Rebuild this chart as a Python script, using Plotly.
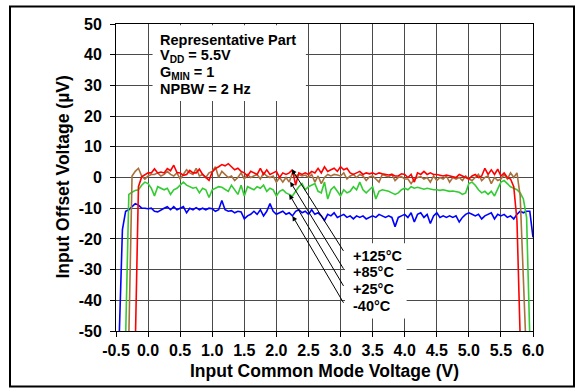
import plotly.graph_objects as go

# ---------------- data ----------------
# common-mode voltage sample grid (V), -0.45 .. 6.00 in 0.05 V steps
vcm = [round(-0.45 + 0.05 * i, 2) for i in range(130)]

vos_m40 = [  # -40°C (blue)
    -52, -17, -11, -10.5, -9.5, -8.5, -9, -10, -10, -10.2,
    -10, -11, -11.2, -10.5, -10, -9.5, -10.5, -9.5, -10.5, -10,
    -9.5, -11.5, -10, -10.5, -9.8, -10.5, -10, -10.5, -10, -10.2,
    -11, -10.5, -7.5, -10.5, -11, -10.8, -11.5, -11, -11.2, -13.5,
    -12.5, -12, -11, -12, -10.5, -12.5, -11, -8.5, -11, -12,
    -11.5, -11, -12, -11.5, -12.5, -11, -10.5, -11.5, -11, -12,
    -10.5, -12, -11.5, -12.5, -14, -12, -12.5, -11.5, -13, -12.5,
    -12, -13, -12.5, -13.5, -12.5, -13, -12.5, -13.5, -13, -12.5,
    -13, -12, -12.5, -13, -12.5, -13, -16, -13, -12.5, -12,
    -13, -11.5, -14.5, -12, -11.5, -13, -12, -15, -12.5, -11.5,
    -13, -12.5, -13, -12.5, -13, -12.5, -14.5, -13, -12, -11.5,
    -12, -12.5, -12, -13.5, -12.5, -12, -11.5, -13.5, -12, -12.5,
    -12, -13, -12.5, -13.5, -12, -11, -11.5, -11, -11, -19.5,
]
vos_25 = [  # +25°C (green)
    None, None, -52, -5.5, -4.8, -4.2, -4, -2.5, -1.5, -2,
    -3.5, -6, -3, -3.5, -4, -3.5, -5.5, -4, -3.5, -2.5,
    -1.5, -2.5, -3, -3.5, -3.2, -5, -3.5, -4, -6.5, -4,
    -3.5, -3, -3.2, -4, -4.5, -2.5, -4, -5.5, -2.5, -6,
    -3, -3.5, -4, -3, -3.5, -2.5, -4.5, -3.5, -4, -6,
    -4.5, -4, -5, -5.5, -6, -4.5, -3, -2, -4, -3,
    -2.5, -2, -4.5, -5, -1.5, -7, -4, -3, -4.5, -6,
    -4, -5, -4.5, -3, -4, -1.5, -4, -5, -4, -3,
    -7, -4.5, -4, -4.2, -4.5, -5, -5.5, -5, -4, -3.5,
    -4, -3, -3.5, -3.2, -3.5, -3.8, -3.5, -3.8, -4, -4,
    -4.2, -4, -4.2, -4.5, -4.4, -4.6, -4.8, -5.5, -5, -2,
    -1.5, -2.5, -4, -5, -4.5, -5.5, -4.5, -6, -3.5, -1.5,
    -1, -2, -3, -3.5, -4, -5, -7, -13, -52, None,
]
vos_85 = [  # +85°C (brown)
    None, None, None, -52, 0.5, 2, 3, 0.5, -0.5, 0.5,
    1, 1, 1.5, 0.5, 1, 2, 1, 0.5, 1.5, -0.5,
    1, 2.5, 1.5, 1, 3, 0.5, 1, 0, 1.5, 2,
    3.5, 0, 2, 1, 0, 0.5, -1, 0, 1.5, -0.5,
    1, 0, 0.5, 1, -0.5, 1.5, 0.5, 0, 0.5, -1.5,
    0, -1.5, 0, -1.5, 1.5, 0.5, 1, 0.5, 0.8, 0,
    1, -1.5, 0.5, -2, 0, 1, 0.5, 1, 0.8, 0.5,
    1.5, -0.5, 0.5, 1, 0, 1, 0.5, -1, 0.2, 0.5,
    -0.5, -1.5, 1, 0.5, 0.2, 1, -1, 0, 0.3, -0.5,
    -0.5, -2, -0.5, 0, 0.3, -0.5, 0, -1.5, 0.5, -1,
    0, -0.5, 0.5, -1.5, 0, -0.5, 0, -1, 0.5, -0.5,
    -1, 0, 1, -1, 0, 0.5, -2, 0, -1, -0.5,
    1, -0.5, 1.5, 0, 1.5, -6, -36, -60, None, None,
]
vos_125 = [  # +125°C (red)
    None, None, None, None, None, -55, -3, 0.2, 1, 1.5,
    1.5, 2.8, 1.5, 1.8, 1.5, 2.9, 2.2, 4, 1.6, 1.5,
    0.7, 1, 2.3, 1.5, 1.5, 2.7, 1, 0.2, -0.9, 1.8,
    2.9, 3.5, 4.2, 3.8, 4.5, 3.5, 2.5, 3, 2, 1.5,
    0.5, 2, 1.5, 1, 3, 1, 2.5, 1, 1.5, 2,
    0, 1.5, 1, 1.5, 2.5, -2.5, 1.5, 1, 1.5, 1,
    2, 1.5, 3, 1.5, 3.5, 2, 2.5, 3, 2, 3.5,
    2.5, 3, 1.5, 1, 1.5, 2, 1, 1.5, 1.2, 1.5,
    1, 1.5, 1.2, 1, 0.8, 1, 0.5, 0.5, 1.2, 1,
    0, 1, -1.5, 1.5, 1, 2, 1, 1.5, 1, 1,
    0.8, 0.5, 0.8, 0.5, 0.2, 0, 1, 0.5, 0.2, -0.5,
    0.5, 1, 0, 0.5, 3, 1, 2.5, 1, 2.7, 0.5,
    1.5, 0, -0.5, -3, -14, -52, None, None, None, None,
]

series_names = ["-40°C", "+25°C", "+85°C", "+125°C"]
series_colors = ["#0000FF", "#33CC33", "#A8703C", "#FF0000"]
series_values = [vos_m40, vos_25, vos_85, vos_125]

x_tickvals = [-0.5, 0.0, 0.5, 1.0, 1.5, 2.0, 2.5, 3.0, 3.5, 4.0, 4.5, 5.0, 5.5, 6.0]
x_ticktext = ["-0.5", "0.0", "0.5", "1.0", "1.5", "2.0", "2.5", "3.0", "3.5", "4.0", "4.5", "5.0", "5.5", "6.0"]
y_tickvals = [-50, -40, -30, -20, -10, 0, 10, 20, 30, 40, 50]
y_ticktext = ["-50", "-40", "-30", "-20", "-10", "0", "10", "20", "30", "40", "50"]

info_lines = ["Representative Part", "V<sub>DD</sub> = 5.5V", "G<sub>MIN</sub> = 1", "NPBW = 2 Hz"]
label_texts = ["+125°C", "+85°C", "+25°C", "-40°C"]
# arrow targets on curves (x, y) and label y positions
arrow_heads = [(2.24, 2.7), (2.215, -1.4), (2.2, -5.5), (2.25, -12.5)]
label_y = [-25.5, -30.9, -36.2, -41.8]

# ---------------- figure ----------------
W, H = 578, 388
ML, MR, MT, MB = 116, 45, 24, 57
PW, PH = W - ML - MR, H - MT - MB

def pxx(px):
    return (px - ML) / PW

def pxy(py):
    return (H - MB - py) / PH

FONT = "Liberation Sans, Arial, sans-serif"

fig = go.Figure()
for name, col, vals in zip(series_names, series_colors, series_values):
    fig.add_trace(go.Scatter(x=vcm, y=vals, mode="lines", name=name,
                             line=dict(color=col, width=1.6), connectgaps=False))

axis_common = dict(
    showgrid=True, gridcolor="#4a4a4a", gridwidth=1, zeroline=False,
    showline=True, linecolor="black", linewidth=1, mirror=True,
    ticks="outside", ticklen=5, tickcolor="black",
    tickfont=dict(family=FONT, size=16, color="black", weight="bold"),
)
fig.update_xaxes(range=[-0.5, 6.0], tickvals=x_tickvals, ticktext=x_ticktext,
                 ticklabelstandoff=0, **axis_common)
fig.update_yaxes(range=[-50, 50], tickvals=y_tickvals, ticktext=y_ticktext,
                 ticklabelstandoff=5, **axis_common)

shapes = [
    # info box background
    dict(type="rect", xref="x", yref="y", x0=0.07, x1=2.46, y0=24.9, y1=49.6,
         fillcolor="white", line=dict(width=0), layer="above"),
    # temperature label box background
    dict(type="rect", xref="x", yref="y", x0=3.07, x1=4.03, y0=-45.9, y1=-21.4,
         fillcolor="white", line=dict(width=0), layer="above"),
    # outer frame
    dict(type="rect", xref="paper", yref="paper", x0=pxx(10), x1=pxx(574), y0=pxy(386.5), y1=pxy(6.5),
         fillcolor="rgba(0,0,0,0)", line=dict(color="black", width=2)),
]

ann = []
info_y = [44.94, 39.56, 34.18, 28.8]
for t, yy in zip(info_lines, info_y):
    ann.append(dict(x=0.15, y=yy, xref="x", yref="y", text="<b>" + t + "</b>", showarrow=False,
                    xanchor="left", yanchor="middle", font=dict(family=FONT, size=14.5, color="black")))
for t, yy in zip(label_texts, label_y):
    ann.append(dict(x=3.17, y=yy, xref="x", yref="y", text="<b>" + t + "</b>", showarrow=False,
                    xanchor="left", yanchor="middle", font=dict(family=FONT, size=14.5, color="black")))
tails = [-24.4, -30.2, -35.8, -41.3]
for (hx, hy), ty in zip(arrow_heads, tails):
    ann.append(dict(x=hx, y=hy, xref="x", yref="y", ax=3.06, ay=ty, axref="x", ayref="y",
                    text="", showarrow=True, arrowhead=2, arrowsize=1, arrowwidth=1,
                    arrowcolor="black", standoff=0))
ann.append(dict(x=0.5, y=pxy(371), xref="paper", yref="paper", text="<b>Input Common Mode Voltage (V)</b>",
                showarrow=False, xanchor="center", yanchor="middle",
                font=dict(family=FONT, size=17.5, color="black")))
ann.append(dict(x=pxx(62), y=0.5, xref="paper", yref="paper", text="<b>Input Offset Voltage (µV)</b>",
                showarrow=False, xanchor="center", yanchor="middle", textangle=-90,
                font=dict(family=FONT, size=17.5, color="black")))

fig.update_layout(
    width=W, height=H, margin=dict(l=ML, r=MR, t=MT, b=MB),
    paper_bgcolor="white", plot_bgcolor="white", showlegend=False,
    shapes=shapes, annotations=ann,
)

fig.write_html("out.html", config={"displayModeBar": False},
               post_script="document.body.style.margin='0px';document.body.style.overflow='hidden';")
